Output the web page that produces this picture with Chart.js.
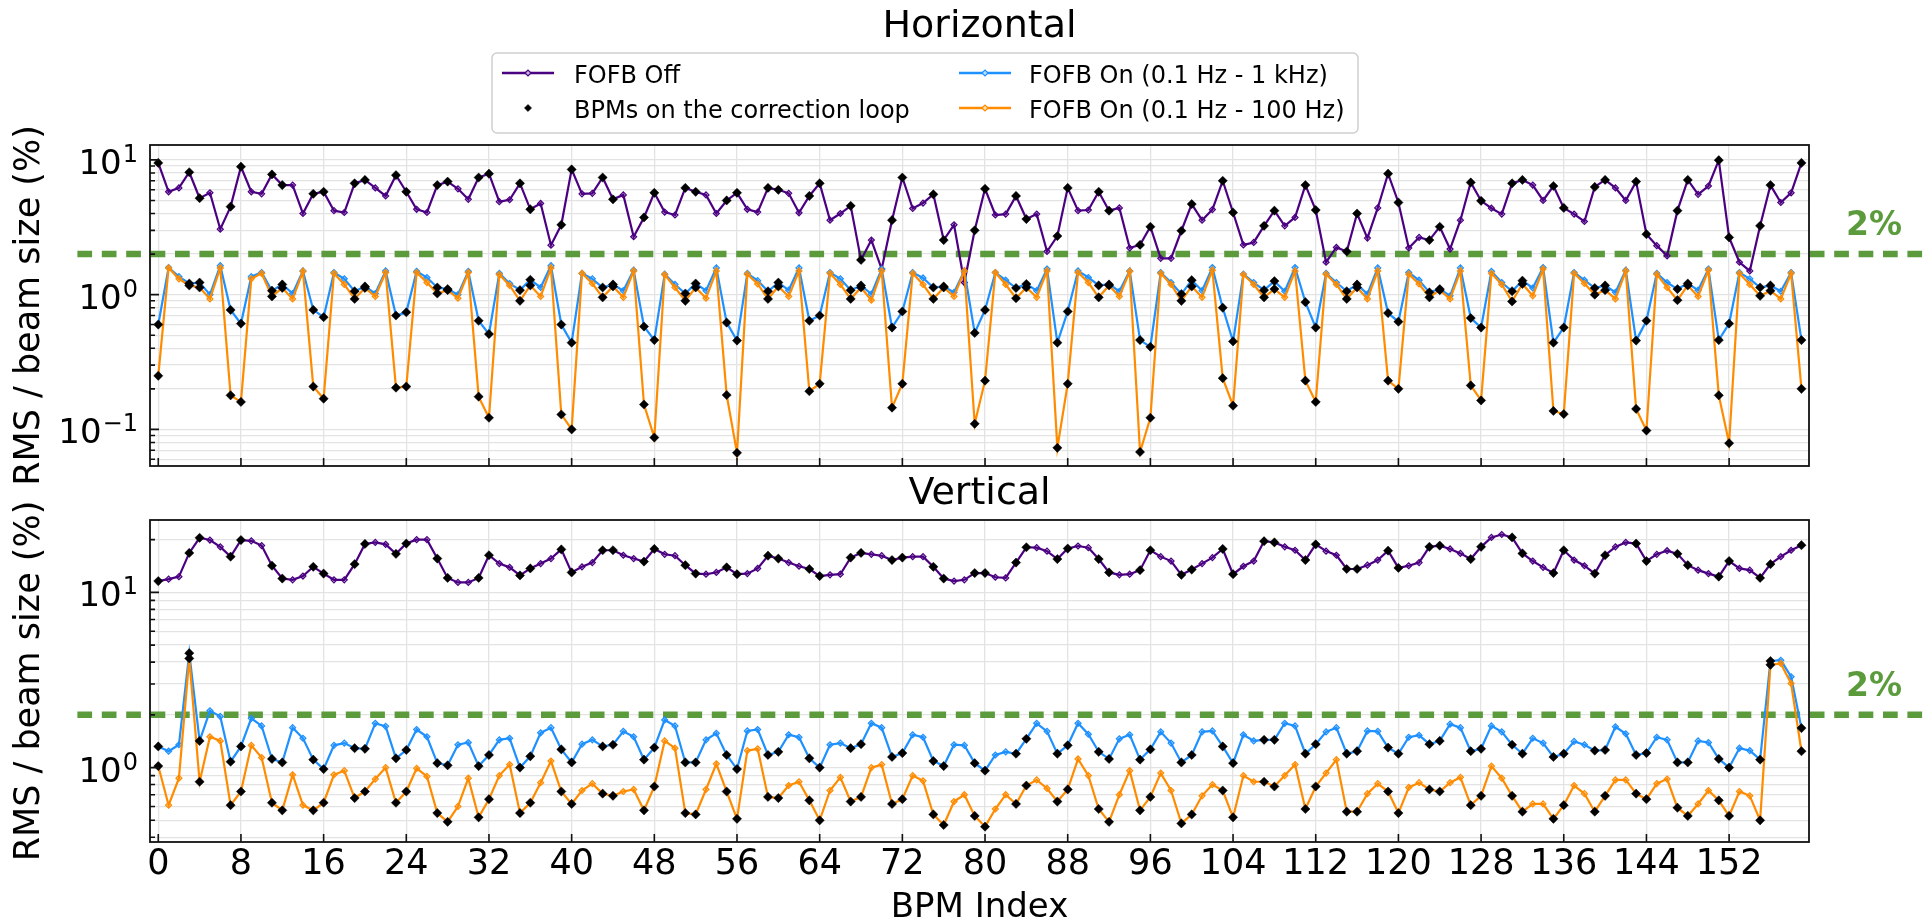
<!DOCTYPE html>
<html>
<head>
<meta charset="utf-8">
<script src="https://cdn.jsdelivr.net/npm/chart.js@4.4.1/dist/chart.umd.min.js"></script>
<style>
  html, body { margin: 0; padding: 0; background: #fff; }
  #wrap { position: relative; width: 1927px; height: 924px; overflow: hidden; }
  canvas { position: absolute; left: 0; }
  #top { top: 0; }
  #bot { top: 470px; }
</style>
</head>
<body>
<div id="wrap">
  <canvas id="top" width="1927" height="520"></canvas>
  <canvas id="bot" width="1927" height="454"></canvas>
</div>
<script>
const bpmIndex = Array.from({length: 160}, (_, i) => i);

const loopBpms = [0, 3, 4, 7, 8, 11, 12, 15, 16, 19, 20, 23, 24, 27, 28, 31, 32, 35, 36, 39,
  40, 43, 44, 47, 48, 51, 52, 55, 56, 59, 60, 63, 64, 67, 68, 71, 72, 75, 76, 79,
  80, 83, 84, 87, 88, 91, 92, 95, 96, 99, 100, 103, 104, 107, 108, 111, 112, 115, 116, 119,
  120, 123, 124, 127, 128, 131, 132, 135, 136, 139, 140, 143, 144, 147, 148, 151, 152, 155, 156, 159];

const xTicks = [0, 8, 16, 24, 32, 40, 48, 56, 64, 72, 80, 88, 96, 104, 112, 120, 128, 136, 144, 152];

// Horizontal plane
const hOff = [9.5, 5.8, 6.2, 8.1, 5.2, 5.7, 3.06, 4.5, 8.9, 5.8, 5.6, 7.8, 6.5, 6.5, 4.0, 5.6, 5.8, 4.2, 4.07, 6.7,
  7.1, 6.2, 5.4, 7.7, 5.8, 4.3, 4.07, 6.5, 6.9, 6.1, 5.1, 7.4, 7.9, 4.9, 5.06, 6.7, 4.3, 4.75, 2.33, 3.3,
  8.5, 5.6, 5.65, 7.4, 5.1, 5.5, 2.69, 3.74, 5.7, 4.1, 3.9, 6.2, 5.8, 5.5, 4.0, 5.0, 5.7, 4.3, 4.1, 6.2,
  6.0, 5.65, 4.05, 5.4, 6.7, 3.57, 4.0, 4.56, 1.81, 2.54, 1.55, 3.57, 7.4, 4.36, 4.78, 5.55, 2.54, 3.3, 1.23, 3.0,
  6.1, 3.9, 3.96, 5.4, 3.64, 3.96, 2.09, 2.72, 6.2, 4.2, 4.25, 5.8, 4.2, 4.4, 2.22, 2.34, 3.19, 1.86, 1.86, 2.98,
  4.7, 3.57, 4.28, 7.0, 4.07, 2.34, 2.44, 3.24, 4.2, 3.24, 3.74, 6.5, 4.24, 1.74, 2.24, 2.09, 4.0, 2.63, 4.4, 7.9,
  4.83, 2.22, 2.66, 2.54, 3.19, 2.18, 3.57, 6.8, 4.97, 4.38, 3.96, 6.7, 7.1, 6.5, 5.0, 6.4, 4.4, 3.96, 3.49, 6.3,
  7.1, 6.2, 5.0, 6.9, 2.81, 2.31, 1.94, 4.2, 7.1, 5.55, 6.4, 9.95, 2.66, 1.74, 1.5, 3.24, 6.5, 4.83, 5.7, 9.5];

const hOn1k = [0.6, 1.59, 1.36, 1.21, 1.23, 1.0, 1.64, 0.77, 0.61, 1.36, 1.46, 1.07, 1.19, 1.02, 1.5, 0.77, 0.68, 1.46, 1.31, 1.06,
  1.15, 1.02, 1.5, 0.7, 0.74, 1.49, 1.34, 1.13, 1.1, 1.0, 1.49, 0.64, 0.51, 1.44, 1.21, 1.08, 1.29, 1.13, 1.64, 0.6,
  0.44, 1.44, 1.31, 1.13, 1.19, 1.07, 1.52, 0.58, 0.46, 1.42, 1.19, 1.02, 1.21, 1.07, 1.58, 0.62, 0.456, 1.44, 1.27, 1.06,
  1.23, 1.08, 1.58, 0.64, 0.7, 1.46, 1.31, 1.08, 1.17, 1.01, 1.55, 0.57, 0.75, 1.46, 1.33, 1.13, 1.15, 1.04, 1.5, 0.52,
  0.77, 1.46, 1.28, 1.12, 1.2, 1.07, 1.55, 0.44, 0.75, 1.5, 1.34, 1.17, 1.19, 1.06, 1.5, 0.46, 0.41, 1.46, 1.23, 1.01,
  1.28, 1.07, 1.59, 0.8, 0.45, 1.42, 1.23, 1.08, 1.26, 1.06, 1.59, 0.88, 0.57, 1.44, 1.23, 1.06, 1.19, 1.01, 1.58, 0.73,
  0.63, 1.46, 1.28, 1.04, 1.1, 0.98, 1.58, 0.67, 0.57, 1.49, 1.23, 1.06, 1.27, 1.12, 1.59, 0.44, 0.57, 1.46, 1.28, 1.12,
  1.17, 1.04, 1.52, 0.456, 0.64, 1.44, 1.23, 1.1, 1.21, 1.08, 1.55, 0.46, 0.61, 1.46, 1.31, 1.13, 1.17, 1.06, 1.46, 0.46];

const hOn100 = [0.25, 1.58, 1.31, 1.17, 1.13, 0.93, 1.58, 0.179, 0.16, 1.31, 1.44, 0.97, 1.12, 0.93, 1.49, 0.208, 0.169, 1.44, 1.19, 0.93,
  1.12, 0.97, 1.46, 0.204, 0.208, 1.46, 1.23, 1.02, 1.08, 0.94, 1.46, 0.175, 0.122, 1.41, 1.17, 0.9, 1.17, 0.97, 1.58, 0.129,
  0.1, 1.44, 1.21, 0.955, 1.15, 0.955, 1.5, 0.153, 0.087, 1.41, 1.13, 0.9, 1.13, 0.94, 1.5, 0.18, 0.067, 1.42, 1.2, 0.93,
  1.15, 0.97, 1.5, 0.192, 0.218, 1.44, 1.19, 0.93, 1.13, 0.91, 1.5, 0.145, 0.218, 1.44, 1.19, 0.93, 1.13, 0.97, 1.5, 0.11,
  0.23, 1.46, 1.19, 0.94, 1.13, 0.955, 1.5, 0.073, 0.218, 1.46, 1.23, 0.955, 1.17, 0.97, 1.49, 0.068, 0.122, 1.44, 1.19, 0.9,
  1.15, 0.955, 1.52, 0.24, 0.15, 1.41, 1.19, 0.955, 1.1, 0.955, 1.5, 0.23, 0.16, 1.42, 1.19, 0.93, 1.13, 0.93, 1.5, 0.23,
  0.2, 1.42, 1.2, 0.955, 1.08, 0.93, 1.5, 0.212, 0.164, 1.44, 1.19, 0.89, 1.2, 0.98, 1.55, 0.137, 0.13, 1.44, 1.21, 1.0,
  1.08, 0.93, 1.5, 0.142, 0.098, 1.42, 1.13, 0.91, 1.17, 0.97, 1.52, 0.179, 0.079, 1.44, 1.19, 0.98, 1.07, 0.93, 1.44, 0.2];

// Vertical plane
const vOff = [11.6, 11.9, 12.3, 16.8, 20.5, 19.9, 18.2, 16.0, 19.9, 19.7, 18.5, 14.2, 12.0, 11.8, 12.4, 14.0, 12.8, 11.8, 11.8, 14.5,
  18.9, 19.3, 18.8, 16.6, 19.0, 20.0, 20.0, 15.6, 12.1, 11.4, 11.4, 12.1, 16.3, 14.6, 13.9, 12.5, 13.7, 14.6, 15.6, 17.6,
  13.0, 14.0, 14.8, 17.4, 17.4, 16.3, 15.6, 15.0, 17.7, 16.5, 16.2, 14.3, 12.8, 12.7, 13.0, 13.9, 12.7, 12.8, 13.7, 16.2,
  15.6, 14.8, 14.1, 13.6, 12.4, 12.6, 12.7, 15.8, 16.8, 16.5, 16.2, 15.3, 15.8, 16.0, 16.0, 14.0, 12.0, 11.6, 11.8, 12.9,
  12.9, 12.2, 12.1, 14.8, 18.1, 18.0, 17.2, 15.5, 17.8, 18.4, 18.0, 15.5, 13.0, 12.6, 12.7, 13.4, 17.4, 16.0, 15.1, 12.6,
  13.5, 14.6, 15.8, 17.7, 12.7, 14.1, 15.1, 19.6, 19.3, 18.2, 17.4, 15.3, 18.8, 17.2, 16.3, 13.6, 13.6, 14.3, 15.3, 17.3,
  13.8, 14.2, 14.8, 18.2, 18.5, 17.7, 16.7, 15.5, 18.2, 20.6, 21.4, 20.6, 16.7, 15.1, 13.9, 12.9, 17.4, 15.3, 14.2, 12.8,
  16.3, 18.2, 19.3, 19.0, 15.1, 16.5, 17.3, 16.6, 14.3, 13.4, 12.8, 12.3, 15.1, 13.7, 13.4, 12.1, 14.5, 16.0, 17.4, 18.6];

const vOn1k = [1.32, 1.24, 1.35, 4.5, 1.42, 2.11, 1.96, 1.08, 1.32, 1.91, 1.73, 1.12, 1.07, 1.69, 1.47, 1.11, 0.98, 1.34, 1.38, 1.29,
  1.28, 1.79, 1.72, 1.13, 1.26, 1.65, 1.5, 1.06, 1.03, 1.35, 1.39, 1.02, 1.18, 1.44, 1.47, 1.0, 1.16, 1.58, 1.69, 1.27,
  1.07, 1.36, 1.44, 1.32, 1.35, 1.61, 1.5, 1.11, 1.3, 1.87, 1.73, 1.07, 1.07, 1.44, 1.57, 1.18, 0.98, 1.62, 1.65, 1.18,
  1.23, 1.54, 1.49, 1.13, 1.0, 1.35, 1.38, 1.29, 1.36, 1.79, 1.69, 1.15, 1.21, 1.54, 1.49, 1.09, 1.02, 1.35, 1.34, 1.06,
  0.96, 1.18, 1.23, 1.2, 1.46, 1.79, 1.61, 1.2, 1.34, 1.79, 1.55, 1.23, 1.12, 1.46, 1.54, 1.11, 1.27, 1.6, 1.38, 1.07,
  1.18, 1.6, 1.62, 1.32, 1.06, 1.54, 1.42, 1.44, 1.44, 1.79, 1.73, 1.2, 1.36, 1.6, 1.69, 1.2, 1.24, 1.62, 1.61, 1.3,
  1.2, 1.49, 1.53, 1.36, 1.42, 1.77, 1.69, 1.24, 1.28, 1.73, 1.6, 1.35, 1.2, 1.47, 1.38, 1.15, 1.2, 1.41, 1.35, 1.25,
  1.26, 1.71, 1.56, 1.18, 1.21, 1.49, 1.44, 1.07, 1.07, 1.42, 1.39, 1.12, 1.0, 1.29, 1.25, 1.11, 4.06, 4.1, 3.3, 1.68];

const vOn100 = [1.02, 0.61, 0.87, 4.2, 0.83, 1.5, 1.42, 0.61, 0.73, 1.34, 1.14, 0.63, 0.57, 0.91, 0.61, 0.57, 0.63, 0.91, 0.96, 0.67,
  0.73, 0.86, 1.0, 0.63, 0.73, 0.99, 0.89, 0.55, 0.49, 0.6, 0.87, 0.52, 0.66, 0.9, 1.04, 0.55, 0.63, 0.82, 1.09, 0.73,
  0.62, 0.74, 0.81, 0.71, 0.69, 0.73, 0.75, 0.57, 0.78, 1.42, 1.29, 0.55, 0.54, 0.75, 1.05, 0.73, 0.51, 1.25, 1.28, 0.68,
  0.67, 0.79, 0.83, 0.65, 0.5, 0.74, 0.88, 0.64, 0.68, 1.0, 1.04, 0.62, 0.66, 0.9, 0.84, 0.54, 0.47, 0.64, 0.7, 0.53,
  0.46, 0.58, 0.7, 0.62, 0.79, 0.85, 0.76, 0.64, 0.75, 1.12, 0.9, 0.58, 0.49, 0.7, 0.96, 0.57, 0.68, 0.93, 0.74, 0.48,
  0.54, 0.69, 0.8, 0.74, 0.52, 0.9, 0.83, 0.83, 0.78, 0.9, 1.04, 0.58, 0.78, 0.93, 1.11, 0.56, 0.56, 0.71, 0.81, 0.73,
  0.55, 0.77, 0.82, 0.75, 0.73, 0.82, 0.88, 0.61, 0.69, 1.02, 0.87, 0.69, 0.56, 0.62, 0.62, 0.51, 0.61, 0.79, 0.71, 0.56,
  0.69, 0.85, 0.85, 0.71, 0.66, 0.81, 0.86, 0.59, 0.53, 0.62, 0.74, 0.65, 0.53, 0.73, 0.69, 0.5, 3.86, 3.93, 3.02, 1.24];

const threshold = 2;

const colors = {
  off: '#4b0082',
  on1k: '#1e90ff',
  on100: '#ff8c00',
  loop: '#000000',
  limit: '#5b9b3c',
  grid: '#e3e3e3'
};
const fills = {
  off: 'rgba(75, 0, 130, 0.3)',
  on1k: 'rgba(30, 144, 255, 0.3)',
  on100: 'rgba(255, 140, 0, 0.3)'
};

Chart.defaults.font.family = '"DejaVu Sans", sans-serif';
Chart.defaults.color = '#000';

function logTicks(scale) {
  const ticks = [];
  for (let e = -3; e <= 3; e++) {
    for (let m = 1; m < 10; m++) {
      const v = m * Math.pow(10, e);
      if (v >= scale.min && v <= scale.max) ticks.push({value: v});
    }
  }
  scale.ticks = ticks;
}

// exponent of a decade tick, or null for minor ticks
function decadeExp(v) {
  const l = Math.log10(v);
  const e = Math.round(l);
  return Math.abs(l - e) > 1e-6 ? null : e;
}

function panelDatasets(off, on1k, on100) {
  const series = [
    {label: 'FOFB Off', values: off, color: colors.off, fill: fills.off, order: 3},
    {label: 'FOFB On (0.1 Hz - 1 kHz)', values: on1k, color: colors.on1k, fill: fills.on1k, order: 2},
    {label: 'FOFB On (0.1 Hz - 100 Hz)', values: on100, color: colors.on100, fill: fills.on100, order: 1}
  ];
  const ds = series.map(s => ({
    label: s.label,
    data: bpmIndex.map((x, i) => ({x: x, y: s.values[i]})),
    borderColor: s.color,
    backgroundColor: s.fill,
    borderWidth: 2.2,
    pointStyle: 'rectRot',
    pointRadius: 3,
    pointBorderWidth: 1.2,
    pointBorderColor: s.color,
    pointBackgroundColor: s.fill,
    order: s.order
  }));
  series.forEach(s => {
    ds.push({
      label: 'BPMs on the correction loop',
      data: loopBpms.map(x => ({x: x, y: s.values[x]})),
      showLine: false,
      pointStyle: 'rectRot',
      pointRadius: 4.6,
      pointBorderWidth: 0.5,
      pointBackgroundColor: colors.loop,
      pointBorderColor: colors.loop,
      order: 0
    });
  });
  return ds;
}

// green 2% limit, runs past the axes to the figure edge
const limitLine = {
  id: 'limitLine',
  beforeDatasetsDraw(chart) {
    const ctx = chart.ctx;
    const y = chart.scales.y.getPixelForValue(threshold);
    ctx.save();
    ctx.strokeStyle = colors.limit;
    ctx.lineWidth = 6.5;
    ctx.setLineDash([14.7, 9.7]);
    ctx.beginPath();
    ctx.moveTo(77.4, y);
    ctx.lineTo(chart.width, y);
    ctx.stroke();
    ctx.setLineDash([]);
    ctx.fillStyle = colors.limit;
    ctx.font = 'bold 33px "DejaVu Sans"';
    ctx.textAlign = 'center';
    ctx.textBaseline = 'alphabetic';
    ctx.fillText('2%', 1874, y - 19);
    ctx.restore();
  }
};

// full box frame, inward tick marks and 10^n labels (matplotlib style)
const frameTicks = {
  id: 'frameTicks',
  afterDatasetsDraw(chart) {
    const {ctx, chartArea: a, scales: {x, y}} = chart;
    ctx.save();
    ctx.strokeStyle = '#111';
    ctx.lineWidth = 1.6;
    ctx.beginPath();
    y.ticks.forEach(t => {
      const py = y.getPixelForValue(t.value);
      const len = decadeExp(t.value) === null ? 5 : 9;
      ctx.moveTo(a.left, py);
      ctx.lineTo(a.left + len, py);
    });
    xTicks.forEach(v => {
      const px = x.getPixelForValue(v);
      ctx.moveTo(px, a.bottom);
      ctx.lineTo(px, a.bottom - 8);
    });
    ctx.stroke();
    ctx.lineWidth = 1.8;
    ctx.strokeRect(a.left, a.top, a.right - a.left, a.bottom - a.top);

    const right = a.left - 12;
    ctx.fillStyle = '#000';
    ctx.textBaseline = 'alphabetic';
    y.ticks.forEach(t => {
      const e = decadeExp(t.value);
      if (e === null) return;
      const py = y.getPixelForValue(t.value);
      const expText = e < 0 ? '\u2212' + (-e) : String(e);
      ctx.font = '24px "DejaVu Sans"';
      ctx.textAlign = 'right';
      const ew = ctx.measureText(expText).width;
      ctx.fillText(expText, right, py + 2);
      ctx.font = '34px "DejaVu Sans"';
      ctx.fillText('10', right - ew - 1, py + 14);
    });
    ctx.restore();
  }
};

const legendEntries = [
  {label: 'FOFB Off', color: colors.off, fill: fills.off, line: true, col: 0, row: 0},
  {label: 'BPMs on the correction loop', color: colors.loop, fill: colors.loop, line: false, col: 0, row: 1},
  {label: 'FOFB On (0.1 Hz - 1 kHz)', color: colors.on1k, fill: fills.on1k, line: true, col: 1, row: 0},
  {label: 'FOFB On (0.1 Hz - 100 Hz)', color: colors.on100, fill: fills.on100, line: true, col: 1, row: 1}
];

function diamond(ctx, cx, cy, r, fill, stroke, lw) {
  ctx.beginPath();
  ctx.moveTo(cx - r, cy);
  ctx.lineTo(cx, cy - r);
  ctx.lineTo(cx + r, cy);
  ctx.lineTo(cx, cy + r);
  ctx.closePath();
  ctx.fillStyle = '#fff';
  ctx.fill();
  ctx.fillStyle = fill;
  ctx.fill();
  ctx.strokeStyle = stroke;
  ctx.lineWidth = lw;
  ctx.stroke();
}

const legendBox = {
  id: 'legendBox',
  afterDraw(chart) {
    const ctx = chart.ctx;
    const colX = [502, 959];
    const rowY = [73, 108];
    ctx.save();
    ctx.fillStyle = 'rgba(255,255,255,0.85)';
    ctx.strokeStyle = '#cfcfcf';
    ctx.lineWidth = 1.5;
    ctx.beginPath();
    ctx.roundRect(492, 53, 866, 80, 5);
    ctx.fill();
    ctx.stroke();
    ctx.font = '24px "DejaVu Sans"';
    ctx.textBaseline = 'alphabetic';
    ctx.textAlign = 'left';
    legendEntries.forEach(e => {
      const x0 = colX[e.col];
      const y0 = rowY[e.row];
      const tx = e.col === 0 ? 574 : 1029;
      if (e.line) {
        ctx.strokeStyle = e.color;
        ctx.lineWidth = 2.4;
        ctx.beginPath();
        ctx.moveTo(x0, y0);
        ctx.lineTo(x0 + 52, y0);
        ctx.stroke();
        diamond(ctx, x0 + 26, y0, 3, e.fill, e.color, 1.2);
      } else {
        diamond(ctx, x0 + 26, y0, 3.6, e.fill, e.color, 0.5);
      }
      ctx.fillStyle = '#000';
      ctx.fillText(e.label, tx, y0 + 9.5);
    });
    ctx.restore();
  }
};

function makeOptions(cfg) {
  return {
    responsive: false,
    animation: false,
    devicePixelRatio: 1,
    events: [],
    layout: {padding: {left: 0, right: 118, top: 0, bottom: 0}},
    plugins: {
      legend: {display: false},
      tooltip: {enabled: false},
      title: {
        display: true,
        text: cfg.title,
        fullSize: false,
        color: '#000',
        font: {size: 38, weight: 'normal', lineHeight: 1.2},
        padding: cfg.titlePadding
      }
    },
    scales: {
      x: {
        type: 'linear',
        min: -0.8,
        max: 159.73,
        afterBuildTicks: s => { s.ticks = xTicks.map(v => ({value: v})); },
        afterFit: s => { s.height = cfg.xHeight; s.paddingLeft = 0; s.paddingRight = 0; },
        grid: {color: colors.grid, lineWidth: 1.3, drawTicks: false},
        border: {display: false},
        ticks: {display: cfg.xLabels, autoSkip: false, maxRotation: 0, padding: 2, font: {size: 35}},
        title: {
          display: cfg.xLabels,
          text: 'BPM Index',
          font: {size: 34, lineHeight: 0.94},
          padding: {top: 0, bottom: 0}
        }
      },
      y: {
        type: 'logarithmic',
        min: cfg.yMin,
        max: cfg.yMax,
        afterBuildTicks: logTicks,
        afterFit: s => { s.width = 150; s.paddingTop = 0; s.paddingBottom = 0; },
        grid: {color: colors.grid, lineWidth: 1.3, drawTicks: false},
        border: {display: false},
        ticks: {display: false, autoSkip: false},
        title: {
          display: true,
          text: 'RMS / beam size (%)',
          font: {size: 35, lineHeight: 1.2},
          padding: {top: 9, bottom: 0}
        }
      }
    }
  };
}

new Chart(document.getElementById('top'), {
  type: 'line',
  data: {datasets: panelDatasets(hOff, hOn1k, hOn100)},
  options: makeOptions({
    title: 'Horizontal',
    titlePadding: {top: 4, bottom: 95.4},
    xHeight: 54,
    xLabels: false,
    yMin: 0.0535,
    yMax: 12.9
  }),
  plugins: [limitLine, frameTicks, legendBox]
});

new Chart(document.getElementById('bot'), {
  type: 'line',
  data: {datasets: panelDatasets(vOff, vOn1k, vOn100)},
  options: makeOptions({
    title: 'Vertical',
    titlePadding: {top: 1.2, bottom: 3.2},
    xHeight: 82,
    xLabels: true,
    yMin: 0.376,
    yMax: 25.9
  }),
  plugins: [limitLine, frameTicks]
});
</script>
</body>
</html>
